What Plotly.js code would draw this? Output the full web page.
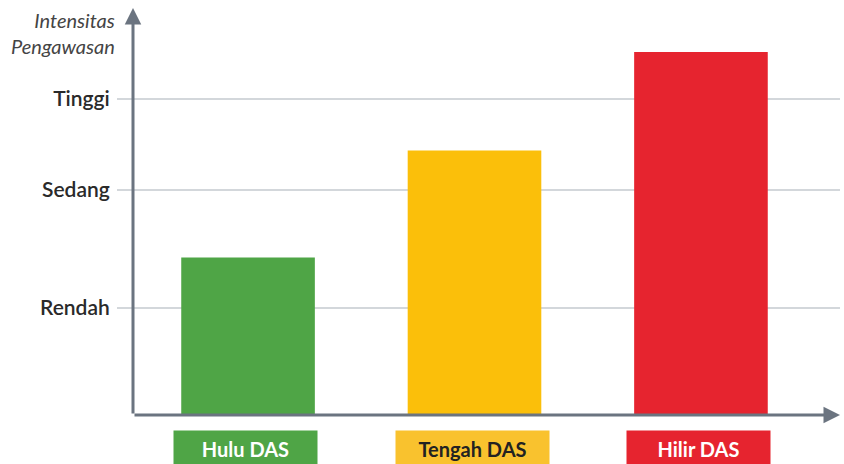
<!DOCTYPE html>
<html>
<head>
<meta charset="utf-8">
<script src="https://cdn.plot.ly/plotly-3.0.1.min.js"></script>
<style>html,body{margin:0;padding:0;background:#fff;}#chart{width:844px;height:464px;}</style>
</head>
<body>
<div id="chart"></div>
<script>
// Data
const categories = ["Hulu DAS", "Tengah DAS", "Hilir DAS"];
const intensity = [1.47, 2.47, 3.39];
const levelValues = [1.0, 2.1, 2.95];
const levelLabels = ["Rendah", "Sedang", "Tinggi"];
const yTitle = "Intensitas<br>Pengawasan";

const barColors = ["#4fa546", "#fbbf0a", "#e6242f"];
const labelBg = ["#4fa546", "#f9c22e", "#e6242f"];
const labelFg = ["#ffffff", "#222222", "#ffffff"];
const labelW = [143, 153, 143];

const xIdx = categories.map((_, i) => i);
const axisColor = "#6b7480";
const font = "Lato, 'Noto Sans', sans-serif";

const trace = {
  type: "bar",
  x: xIdx,
  y: intensity,
  width: 0.59,
  marker: {color: barColors},
  hoverinfo: "skip"
};

const annotations = [
  {xref: "x domain", yref: "y domain", x: 0, y: 1, ax: 0, ay: 407, axref: "pixel", ayref: "pixel",
   showarrow: true, arrowhead: 2, arrowsize: 1.1, arrowwidth: 3, arrowcolor: axisColor, text: ""},
  {xref: "x domain", yref: "y domain", x: 1, y: 0, ax: -707, ay: 0,
   showarrow: true, arrowhead: 2, arrowsize: 1.1, arrowwidth: 3, arrowcolor: axisColor, text: ""},
  {xref: "paper", yref: "paper", x: -0.022, y: 1.005, xanchor: "right", yanchor: "top", align: "right",
   showarrow: false, text: yTitle, font: {family: font, size: 20, color: "#444", style: "italic", lineposition: "none"}}
];
categories.forEach((c, i) => {
  annotations.push({
    xref: "x", yref: "paper", x: xIdx[i] - 0.01, y: -0.037, xanchor: "center", yanchor: "top",
    showarrow: false, text: "<b>" + c + "</b>", width: labelW[i], height: 36, borderpad: 0,
    bgcolor: labelBg[i], font: {family: font, size: 20, color: labelFg[i]}
  });
});

const layout = {
  width: 844, height: 464,
  margin: {l: 133, r: 4, t: 8, b: 49},
  paper_bgcolor: "#ffffff", plot_bgcolor: "#ffffff",
  showlegend: false,
  xaxis: {range: [-0.508, 2.614], showgrid: false, zeroline: false, showline: false,
          showticklabels: false, ticks: "", fixedrange: true},
  yaxis: {range: [0, 3.80], tickvals: levelValues, ticktext: levelLabels,
          showgrid: true, gridcolor: "#d3d7db", gridwidth: 1.5, zeroline: false, showline: false,
          ticks: "outside", ticklen: 15, tickcolor: "#d3d7db", tickwidth: 1.5, ticklabelstandoff: 3,
          tickfont: {family: font, size: 21, color: "#2a2a2a", weight: 600}, fixedrange: true},
  annotations: annotations
};

Plotly.newPlot("chart", [trace], layout, {displayModeBar: false, staticPlot: true});
</script>
</body>
</html>
